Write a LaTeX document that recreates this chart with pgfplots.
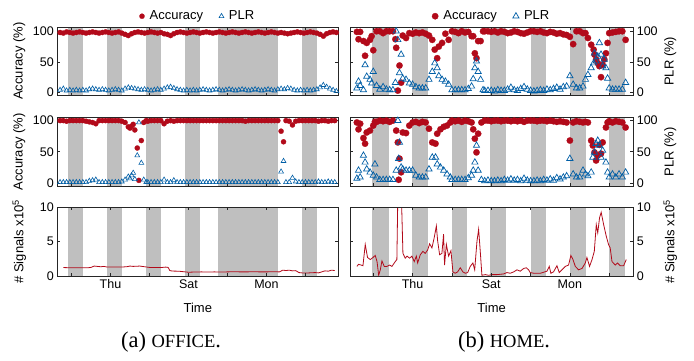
\documentclass[border=0pt]{standalone}
\usepackage{fontspec}
\setmainfont{Liberation Sans}
\newfontfamily\capfont{Liberation Serif}
\usepackage{pgfplots}
\usepackage{pgfplotstable}
\pgfplotsset{compat=1.18}
\definecolor{accred}{RGB}{178,10,26}
\definecolor{plrblue}{RGB}{0,94,166}
\definecolor{bandgray}{RGB}{191,191,191}

\pgfplotstableread{
t acc plr
-7 98 4
-5 97 6
-3 99 3
-1 98 4
1 97 3
3 98 4
5 99 3
7 98 4
9 97 3
11 98 5
13 99 6
15 98 5
17 97 4
19 98 5
21 99 4
23 98 3
25 97 4
27 98 5
29 99 4
31 97 3
33 95 6
35 93 8
37 96 7
39 98 6
41 99 5
43 98 4
45 97 5
47 98 4
49 99 3
51 98 4
53 97 5
55 98 4
57 96 6
59 95 8
61 93 9
63 96 7
65 98 5
67 99 4
69 98 3
71 97 4
73 98 3
75 99 4
77 98 3
79 97 4
81 98 5
83 99 4
85 98 3
87 97 4
89 98 5
91 99 4
93 98 3
95 97 4
97 98 5
99 99 4
101 98 3
103 97 4
105 98 5
107 99 4
109 98 3
111 97 4
113 98 5
115 99 4
117 98 3
119 97 4
121 98 5
123 99 4
125 98 3
127 97 5
129 98 6
131 97 5
133 96 7
135 97 6
137 98 4
139 99 3
141 98 4
143 97 3
145 98 4
147 99 3
149 98 4
151 97 5
153 95 8
155 92 12
157 96 9
159 98 6
161 99 4
163 98 2
}\officeA

\pgfplotstableread{
t acc plr
-7 100 1
-5 100 1
-3 99 1
-1 100 1
1 100 1
3 100 1
5 100 1
7 100 1
9 99 1
11 98 3
13 97 4
15 95 5
17 100 1
19 100 1
21 100 1
23 100 1
25 100 1
27 100 1
29 100 1
31 99 2
33 97 5
35 90 10
36 88 7
37 91 12
38 94 16
39 85 6
40.5 56 44
41.5 4 97
43 68 32
44.5 97 5
46 100 1
47 99 1
49 100 1
51 100 1
53 100 1
55 100 1
57 95 5
59 99 1
61 100 1
63 99 4
65 100 1
67 100 1
69 100 1
71 100 1
73 100 1
75 100 1
77 100 1
79 100 1
81 100 1
83 100 1
85 100 1
87 100 1
89 100 1
91 100 1
93 100 1
95 100 1
97 100 1
99 100 1
101 100 1
103 100 1
105 100 1
107 99 1
109 100 1
111 100 1
113 100 1
115 100 1
117 100 1
119 100 1
121 100 1
123 100 1
125 100 1
127 100 1
129 83 18
130.5 66 35
132 100 1
134 99 1
136 93 8
138 99 2
140 100 1
142 100 1
144 100 1
146 100 1
148 100 1
150 100 1
152 99 2
154 100 1
156 100 1
158 99 2
160 100 1
162 100 1
}\officeB

\pgfplotstableread{
t v
-5 1.23
0 1.2
5 1.2
10 1.2
12 1.25
14 1.45
16 1.4
18 1.35
20 1.4
22 1.3
26 1.3
30 1.3
34 1.35
36 1.45
38 1.4
42 1.45
45 1.35
48 1.25
52 1.25
56 1.25
58 1.3
59.5 1.25
60.5 0.8
62 0.72
66 0.7
70 0.6
72 0.55
76 0.58
80 0.6
84 0.58
88 0.6
92 0.58
96 0.6
100 0.62
104 0.6
108 0.6
112 0.62
116 0.6
120 0.6
124 0.62
128 0.6
130 0.85
132 0.8
134 0.85
136 0.75
138 0.78
140 0.5
142 0.45
146 0.45
150 0.5
152 0.45
154 0.6
156 0.75
158 0.7
160 0.85
162 0.8
}\officeS

\pgfplotstableread{
t acc plr
-10 99 7
-9 87 18
-8 99 11
-6 84 4
-5 60 45
-4 81 26
-2 86 21
-1 92 15
0 69 34
2 100 11
4 100 5
6 97 9
8 100 5
10 100 4
12 100 4
13.5 87 16
14 73 100
15 3 86
16 44 32
17 16 62
18 93 23
20 89 21
22 97 15
24 96 13
26 98 9
28 97 7
30 98 7
32 96 7
34 93 21
36 86 34
37.5 70 48
39 56 40
40 75 27
42 81 21
44 96 18
46 86 13
48 100 4
50 99 4
52 97 4
54 100 4
56 98 4
58 99 6
60 92 10
61 92 22
62 64 40
63 56 51
64 84 34
65.5 84 21
67 100 4
68 100 3
70 100 3
72 99 3
74 100 2
76 98 4
78 100 3
80 99 3
82 97 5
84 98 8
86 100 4
88 99 3
90 97 6
92 96 9
94 98 5
96 100 3
98 100 2
100 99 3
102 100 4
104 98 3
106 97 5
108 99 4
110 98 6
112 96 8
114 97 5
116 95 9
118 94 10
120 91 27
122 79 13
124 100 7
126 100 7
128 97 10
129.5 97 21
131 89 29
133 78 40
134.5 70 48
135 62 64
136 54 51
137 48 59
138 43 81
139 25 62
140 45 43
141 54 54
142 64 40
143 81 23
144 97 7
146 98 5
148 99 5
150 100 5
152 100 5
154 86 16
}\homeA

\pgfplotstableread{
t acc plr
-10 97 7
-9 86 20
-8 95 9
-6 72 44
-5 63 33
-4 81 22
-2 84 17
0 92 12
1 98 30
2 98 9
4 100 5
6 99 5
8 100 5
10 98 5
12 100 5
14 84 20
15 65 100
15.5 5 39
16 39 65
17 17 25
18 81 22
20 80 20
22 92 20
24 97 20
26 98 12
28 96 9
30 98 9
32 97 9
34 87 22
36 65 41
38 63 41
39 79 30
41 86 25
43 90 20
45 92 14
47 97 9
48 100 5
50 99 5
52 100 5
54 98 5
56 100 5
58 99 8
60 97 12
61 86 20
62 71 33
63 49 60
64 79 20
66 97 5
68 100 3
70 100 4
72 99 3
74 100 3
76 100 4
78 99 3
80 100 5
82 100 4
84 99 6
86 100 4
88 99 5
90 100 3
92 98 7
94 100 4
96 100 3
98 100 3
100 99 4
102 100 3
104 100 5
106 99 4
108 100 6
110 99 4
112 98 8
114 99 6
116 98 9
118 97 11
120 68 39
122 97 14
124 99 9
126 98 9
128 97 20
129.5 98 14
131 97 11
133 68 17
134 60 41
135 49 49
136 36 63
137 44 68
138 61 60
139 47 41
140 65 52
142 89 33
143 97 17
144 99 9
146 97 14
148 99 9
150 98 14
152 97 9
154 89 17
}\homeB

\pgfplotstableread{
t v
-10 1.4
-9 1.7
-7.5 1.6
-6.3 1.5
-4.9 4.6
-3.5 2.7
-1.8 2.4
-0.2 2.7
1.2 3.0
2.3 2.1
3.3 0.1
4.3 0.9
5.3 2.2
6.7 1.4
8.4 1.4
10 1.6
11.4 1.4
13.4 2.1
14.4 2.4
15.2 15
16.8 15
18.1 3.3
19.5 2.6
20.6 2.9
22.2 2.6
23.6 2.9
25 2.1
26.3 2.9
27.1 1.9
28.7 3.1
30.3 3.6
31.7 3.3
33.2 3.8
34.4 4.7
35.8 4.1
37.2 5.6
38.5 7.3
39.3 5.1
40.5 3.1
41.9 3.3
42.9 6.1
43.5 1.6
44.6 4.6
46 2.9
47.4 3.7
48.6 0.6
50 0.4
51.5 0.6
53.1 1.2
54.7 0.6
56.2 0.4
57.6 0.5
59.2 1.4
60.8 1.9
61.9 0.9
63.3 5.1
64.3 6.8
65.3 3.6
66.3 0.1
68.4 0.2
70.4 0.1
72.4 0.2
75.5 0.2
79.5 0.3
81.6 0.5
83.6 0.4
85.7 0.6
87.7 0.9
89.7 0.7
91.8 1.1
93.4 1.2
94.8 0.9
95.8 0.5
98 0.4
102 0.4
106 0.7
107.4 1.4
108.4 0.4
110 0.6
112.1 1.5
113.5 0.5
115.1 0.9
117.2 1.4
119.2 1.6
120.6 3.0
121.9 2.4
123.3 1.4
125.3 0.9
127.4 1.1
129.4 1.9
130.4 2.7
132 1.4
133.5 2.4
134.9 3.6
136.1 7.5
137 6.3
138.1 8.5
139.1 9.3
140.6 7.5
142.2 5.8
143.6 4.6
144.6 4.1
145.7 2.1
147.7 1.6
149.1 1.9
150.7 1.5
152.8 1.5
154.4 2.4
}\homeS

\pgfplotsset{
  base/.style={scale only axis, height=68.5pt, anchor=south west,
    tick align=inside, major tick length=3pt,
    axis line style={color=black!85, line width=0.6pt},
    every tick/.style={black!85, line width=0.6pt},
    tick label style={font=\fontsize{12.5}{13}\selectfont},
    every axis label/.append style={font=\fontsize{13}{14}\selectfont},
    /pgf/number format/assume math mode=true,
    xtick={0,24,48,72,96,120,144}, xticklabels={}, axis on top},
  office/.style={base, width=281pt, xmin=-8.7, xmax=164.2,
    every axis y label/.style={at={(rel axis cs:0,0.5)}, xshift=-38pt, rotate=90, anchor=center}},
  home/.style={base, width=283.3pt, xmin=-14.2, xmax=158.7, yticklabel pos=right,
    every axis y label/.style={at={(rel axis cs:1,0.5)}, xshift=37pt, rotate=90, anchor=center}},
  pctA/.style={ymin=-5, ymax=107, ytick={0,50,100}},
  pctB/.style={ymin=-5, ymax=105, ytick={0,50,100}},
  sig/.style={ymin=0, ymax=10, ytick={0,5,10}, xticklabels={,Thu,,Sat,,Mon,},
    xlabel={Time},
    every axis x label/.style={at={(rel axis cs:0.5,0)}, yshift=-32pt, anchor=center}},
  band/.style={fill=bandgray, draw=none, forget plot, mark=none},
  accO/.style={only marks, mark=*, mark size=2.6pt, color=accred, mark options={fill=accred, line width=0.2pt}},
  plrO/.style={only marks, mark=triangle, mark size=2.8pt, color=plrblue, mark options={line width=0.6pt}},
  accH/.style={only marks, mark=*, mark size=3.2pt, color=accred, mark options={fill=accred, line width=0.2pt}},
  plrH/.style={only marks, mark=triangle, mark size=3.6pt, color=plrblue, mark options={line width=0.7pt}},
  legtop/.style={legend style={draw=none, fill=none, at={(0.5,1.02)}, anchor=south,
    legend columns=2, font=\fontsize{13}{14}\selectfont,
    /tikz/every odd column/.append style={column sep=3pt},
    /tikz/every even column/.append style={column sep=14pt}}, legend cell align=left},
}

\newcommand{\officebands}{%
  \addplot[band] coordinates {(-2,-100) (7,-100) (7,200) (-2,200)};
  \addplot[band] coordinates {(22,-100) (31,-100) (31,200) (22,200)};
  \addplot[band] coordinates {(46,-100) (55,-100) (55,200) (46,200)};
  \addplot[band] coordinates {(70,-100) (79,-100) (79,200) (70,200)};
  \addplot[band] coordinates {(90,-100) (127,-100) (127,200) (90,200)};
  \addplot[band] coordinates {(142,-100) (151,-100) (151,200) (142,200)};
}
\newcommand{\homebands}{%
  \addplot[band] coordinates {(-0.5,-100) (9.5,-100) (9.5,200) (-0.5,200)};
  \addplot[band] coordinates {(23.5,-100) (33.3,-100) (33.3,200) (23.5,200)};
  \addplot[band] coordinates {(47.8,-100) (57,-100) (57,200) (47.8,200)};
  \addplot[band] coordinates {(71.5,-100) (81.3,-100) (81.3,200) (71.5,200)};
  \addplot[band] coordinates {(96,-100) (105.5,-100) (105.5,200) (96,200)};
  \addplot[band] coordinates {(120,-100) (129.6,-100) (129.6,200) (120,200)};
  \addplot[band] coordinates {(144,-100) (153.6,-100) (153.6,200) (144,200)};
}

\begin{document}
\begin{tikzpicture}[x=1pt,y=1pt]
\useasboundingbox (0,0) rectangle (694,360);

% OFFICE top
\begin{axis}[office, pctA, legtop, at={(57.3pt,264.5pt)}, ylabel={Accuracy (\%)}]
\officebands
\addplot[accO] table[x=t,y=acc] {\officeA};
\addlegendentry{Accuracy}
\addplot[plrO] table[x=t,y=plr] {\officeA};
\addlegendentry{PLR}
\end{axis}

% OFFICE middle
\begin{axis}[office, pctB, at={(57.3pt,174pt)}, ylabel={Accuracy (\%)}]
\officebands
\addplot[accO] table[x=t,y=acc] {\officeB};
\addplot[plrO] table[x=t,y=plr] {\officeB};
\end{axis}

% OFFICE bottom
\begin{axis}[office, sig, at={(57.3pt,84pt)}, ylabel={\# Signals x10\textsuperscript{5}}]
\officebands
\addplot[accred, line width=0.8pt, mark=none] table[x=t,y=v] {\officeS};
\end{axis}

% HOME top
\begin{axis}[home, pctA, legtop, at={(350pt,264.5pt)}, ylabel={PLR (\%)}]
\homebands
\addplot[accH] table[x=t,y=acc] {\homeA};
\addlegendentry{Accuracy}
\addplot[plrH] table[x=t,y=plr] {\homeA};
\addlegendentry{PLR}
\end{axis}

% HOME middle
\begin{axis}[home, pctB, at={(350pt,174pt)}, ylabel={PLR (\%)}]
\homebands
\addplot[accH] table[x=t,y=acc] {\homeB};
\addplot[plrH] table[x=t,y=plr] {\homeB};
\end{axis}

% HOME bottom
\begin{axis}[home, sig, at={(350pt,84pt)}, ylabel={\# Signals x10\textsuperscript{5}}]
\homebands
\addplot[accred, line width=0.8pt, mark=none] table[x=t,y=v] {\homeS};
\end{axis}

\node[font=\capfont\fontsize{22.5}{23}\selectfont] at (171,18) {(a) {\fontsize{18.5}{19}\selectfont OFFICE}.};
\node[font=\capfont\fontsize{22.5}{23}\selectfont] at (504,18) {(b) {\fontsize{18.5}{19}\selectfont HOME}.};
\end{tikzpicture}
\end{document}
